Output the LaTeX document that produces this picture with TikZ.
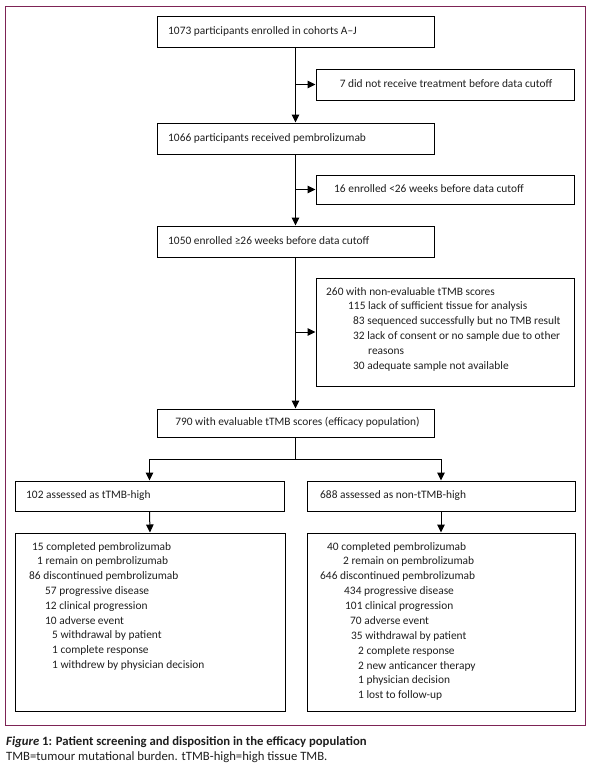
\documentclass[tikz,border=0pt]{standalone}
\usepackage{fontspec}
\setmainfont{Carlito}
\usetikzlibrary{arrows.meta,calc}
\definecolor{framec}{RGB}{125,35,85}
\definecolor{ink}{RGB}{30,30,30}
\tikzset{
  box/.style={draw=black, line width=1pt, rectangle, inner sep=0pt},
  txt/.style={inner sep=0pt, anchor=west, text=ink, text height=8pt, text depth=2.5pt, font=\fontsize{11.4}{14}\selectfont},
  ctxt/.style={txt, anchor=center},
  captxt/.style={txt, font=\fontsize{12.7}{15}\selectfont},
  arr/.style={line width=1pt, -{Triangle[width=7.5pt,length=8pt]}},
  ln/.style={line width=1pt}
}
\begin{document}
\begin{tikzpicture}[x=1pt,y=-1pt]
\useasboundingbox (0,0) rectangle (592,772);
\draw[framec, line width=1pt] (5,6) rectangle (585,725);
% boxes
\node[box, minimum width=277pt, minimum height=31pt] (b1) at (295.5,31.5) {};
\node[box, minimum width=258pt, minimum height=31pt] (b2) at (445,84.5) {};
\node[box, minimum width=277pt, minimum height=31pt] (b3) at (295.5,138.5) {};
\node[box, minimum width=258pt, minimum height=29pt] (b4) at (445,189.5) {};
\node[box, minimum width=277pt, minimum height=31pt] (b5) at (295.5,241.5) {};
\node[box, minimum width=258pt, minimum height=108pt] (b6) at (445,332) {};
\node[box, minimum width=277pt, minimum height=28pt] (b7) at (295.5,423) {};
\node[box, minimum width=269pt, minimum height=30pt] (b8) at (149.5,496) {};
\node[box, minimum width=268pt, minimum height=30pt] (b9) at (441,496) {};
\node[box, minimum width=270pt, minimum height=178pt] (b10) at (150,622) {};
\node[box, minimum width=268pt, minimum height=178pt] (b11) at (441,622) {};
% texts
\node[txt] (t1) at (168,31.5) {1073 participants enrolled in cohorts A–J};
\node[ctxt] (t2) at (446,85) {7 did not receive treatment before data cutoff};
\node[txt] (t3) at (168,138.5) {1066 participants received pembrolizumab};
\node[txt] (t4) at (334,189.5) {16 enrolled <26 weeks before data cutoff};
\node[txt] (t5) at (168,241.5) {1050 enrolled ≥26 weeks before data cutoff};
\foreach \x/\y/\t [count=\i] in {
  326/293/260 with non-evaluable tTMB scores,
  348/307/115 lack of sufficient tissue for analysis,
  353/322/83 sequenced successfully but no TMB result,
  353/337/32 lack of consent or no sample due to other,
  368/352/reasons,
  353/367/30 adequate sample not available}
  \node[txt] (s\i) at (\x,\y) {\t};
\node[ctxt] (t7) at (297.5,423) {790 with evaluable tTMB scores (efficacy population)};
\node[txt] (t8) at (26,496) {102 assessed as tTMB-high};
\node[txt] (t9) at (320,496) {688 assessed as non-tTMB-high};
\foreach \x/\y/\t [count=\i] in {
  32/548/15 completed pembrolizumab,
  37/562/1 remain on pembrolizumab,
  29/577/86 discontinued pembrolizumab,
  45/592/57 progressive disease,
  45/607/12 clinical progression,
  45/622/10 adverse event,
  52/636/5 withdrawal by patient,
  52/651/1 complete response,
  52/666/1 withdrew by physician decision}
  \node[txt] (l\i) at (\x,\y) {\t};
\foreach \x/\y/\t [count=\i] in {
  327/548/40 completed pembrolizumab,
  343/562/2 remain on pembrolizumab,
  320/577/646 discontinued pembrolizumab,
  344/592/434 progressive disease,
  345/607/101 clinical progression,
  350/622/70 adverse event,
  351/637/35 withdrawal by patient,
  358/652/2 complete response,
  358/667/2 new anticancer therapy,
  358/681/1 physician decision,
  358/696/1 lost to follow-up}
  \node[txt] (r\i) at (\x,\y) {\t};
% caption
\node[captxt] (c1) at (6,743) {\textbf{\textit{Figure} 1: Patient screening and disposition in the efficacy population}};
\node[captxt] (c2) at (6,758) {TMB=tumour mutational burden. tTMB-high=high tissue TMB.};
% connectors
\draw[arr] (b1.south) -- (b3.north);
\draw[arr] (b1.south |- b2.west) -- (b2.west);
\draw[arr] (b3.south) -- (b5.north);
\draw[arr] (b3.south |- b4.west) -- (b4.west);
\draw[arr] (b5.south) -- (b7.north);
\draw[arr] (b5.south |- b6.west) -- (b6.west);
\coordinate (sp) at ($(b7.south)+(0,22)$);
\draw[ln] (b7.south) -- (sp);
\draw[arr] (sp) -| (b8.north);
\draw[arr] (sp) -| (b9.north);
\draw[arr] (b8.south) -- (b10.north);
\draw[arr] (b9.south) -- (b11.north);
\end{tikzpicture}
\end{document}
